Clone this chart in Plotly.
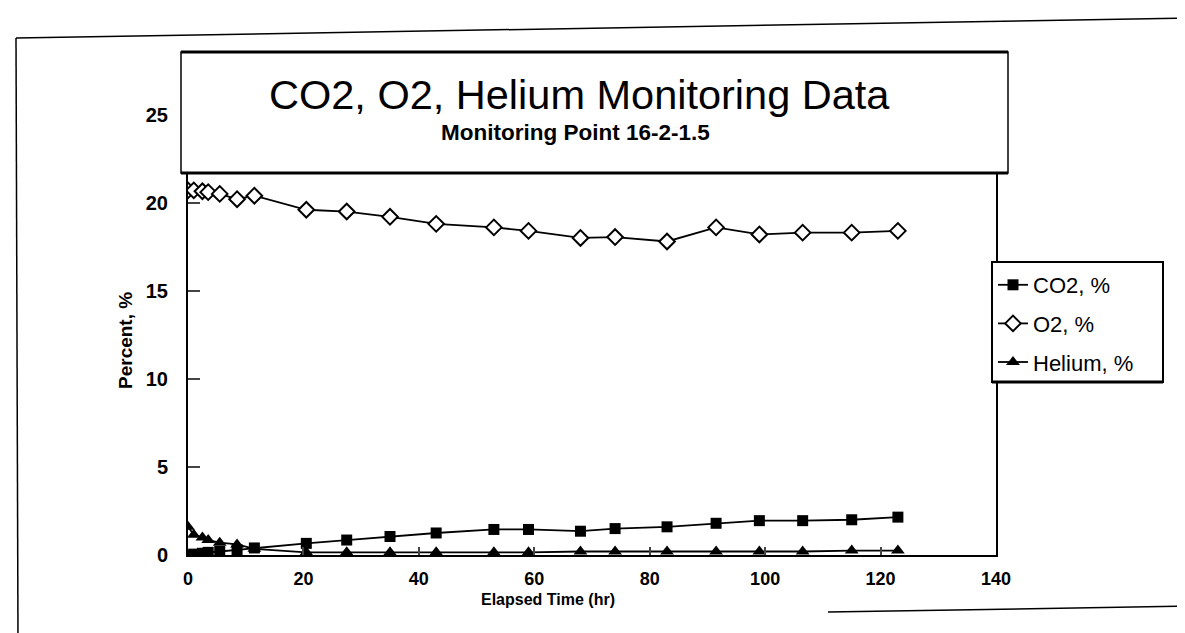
import plotly.graph_objects as go

# elapsed time (hr) and readings
hours = [0, 1, 2.5, 3.5, 5.5, 8.5, 11.5, 20.5, 27.5, 35, 43, 53, 59, 68, 74, 83, 91.5, 99, 106.5, 115, 123]
co2 = [0.0, 0.05, 0.1, 0.15, 0.2, 0.3, 0.4, 0.66, 0.85, 1.05, 1.25, 1.45, 1.45, 1.35, 1.5, 1.6, 1.8, 1.95, 1.95, 2.0, 2.15]
o2 = [20.7, 20.7, 20.65, 20.6, 20.5, 20.2, 20.4, 19.6, 19.5, 19.2, 18.8, 18.6, 18.4, 18.0, 18.05, 17.8, 18.6, 18.2, 18.3, 18.3, 18.4]
helium = [1.6, 1.15, 1.0, 0.85, 0.7, 0.6, 0.35, 0.15, 0.15, 0.15, 0.15, 0.15, 0.15, 0.2, 0.2, 0.2, 0.2, 0.2, 0.2, 0.25, 0.25]

x_ticks = [0, 20, 40, 60, 80, 100, 120, 140]
y_ticks = [0, 5, 10, 15, 20, 25]

W, H = 1185, 633
L, R, T, B = 180, 197, 45, 86
PW, PH = W - L - R, H - T - B


def px(x):
    return (x - L) / PW


def py(y):
    return (H - B - y) / PH


FONT = "Liberation Sans, Arial, sans-serif"

fig = go.Figure()
fig.add_trace(go.Scatter(x=hours, y=co2, name="CO2, %", mode="lines+markers", legendgroup="a",
                         line=dict(color="black", width=1.8),
                         marker=dict(symbol="square", size=11, color="black")))
fig.add_trace(go.Scatter(x=hours, y=o2, name="O2, %", mode="lines+markers", legendgroup="b",
                         line=dict(color="black", width=1.8),
                         marker=dict(symbol="diamond", size=12, color="white",
                                     line=dict(color="black", width=2))))
fig.add_trace(go.Scatter(x=hours, y=helium, name="Helium, %", mode="lines+markers", legendgroup="c",
                         line=dict(color="black", width=1.8),
                         marker=dict(symbol="triangle-up", size=12, color="black")))

fig.update_xaxes(range=[0, 140], tickvals=x_ticks, ticks="inside", ticklen=8, tickwidth=2,
                 showline=True, linecolor="black", linewidth=2, mirror=True, showgrid=False,
                 zeroline=False, ticklabelstandoff=6,
                 tickfont=dict(family=FONT, size=18, color="black", weight="bold"))
fig.update_yaxes(range=[0, 28.5], tickvals=y_ticks, ticks="inside", ticklen=12, tickwidth=2,
                 showline=True, linecolor="black", linewidth=2, mirror=True, showgrid=False,
                 zeroline=False, ticklabelstandoff=14,
                 tickfont=dict(family=FONT, size=20, color="black", weight="bold"))

P = dict(xref="paper", yref="paper")
C = dict(xanchor="center", yanchor="middle", showarrow=False)
shapes = [
    # outer frame of the scanned page
    dict(type="line", x0=px(8), y0=py(30), x1=px(10), y1=py(633), line=dict(color="black", width=1.5), **P),
    dict(type="line", x0=px(8), y0=py(30), x1=px(1185), y1=py(10), line=dict(color="black", width=1.5), **P),
    dict(type="line", x0=px(820), y0=py(604), x1=px(1185), y1=py(598), line=dict(color="black", width=1.5), **P),
    # title box
    dict(type="rect", x0=px(173), y0=py(44), x1=px(1000), y1=py(165), fillcolor="white",
         line=dict(color="black", width=1.5), layer="above", **P),
    dict(type="line", x0=px(173), y0=py(44), x1=px(1000), y1=py(44), line=dict(color="black", width=3), **P),
    dict(type="line", x0=px(173), y0=py(165), x1=px(1000), y1=py(165), line=dict(color="black", width=3), **P),
    # legend frame
    dict(type="rect", x0=px(984), y0=py(254), x1=px(1155), y1=py(374), fillcolor="white",
         line=dict(color="black", width=2), layer="above", **P),
    dict(type="line", x0=px(984), y0=py(374), x1=px(1155), y1=py(374), line=dict(color="black", width=3), **P),
]

annotations = [
    dict(text="CO2, O2, Helium Monitoring Data", x=px(571), y=py(86), **C, **P,
         font=dict(family=FONT, size=41.5, color="black")),
    dict(text="<b>Monitoring Point 16-2-1.5</b>", x=px(567), y=py(125), **C, **P,
         font=dict(family=FONT, size=22.5, color="black")),
    dict(text="<b>Percent, %</b>", x=px(118), y=py(333), textangle=-90, **C, **P,
         font=dict(family=FONT, size=19, color="black")),
    dict(text="<b>Elapsed Time (hr)</b>", x=px(540), y=py(591), **C, **P,
         font=dict(family=FONT, size=16, color="black")),
]

fig.update_layout(
    width=W, height=H,
    margin=dict(l=L, r=R, t=T, b=B),
    paper_bgcolor="white", plot_bgcolor="white",
    shapes=shapes, annotations=annotations,
    showlegend=True,
    legend=dict(x=px(985), y=py(256), xanchor="left", yanchor="top",
                bgcolor="rgba(0,0,0,0)", borderwidth=0,
                font=dict(family=FONT, size=22, color="black"),
                itemwidth=30, tracegroupgap=7, traceorder="grouped"),
    xaxis_title=None, yaxis_title=None,
)

fig.write_html("out.html")
